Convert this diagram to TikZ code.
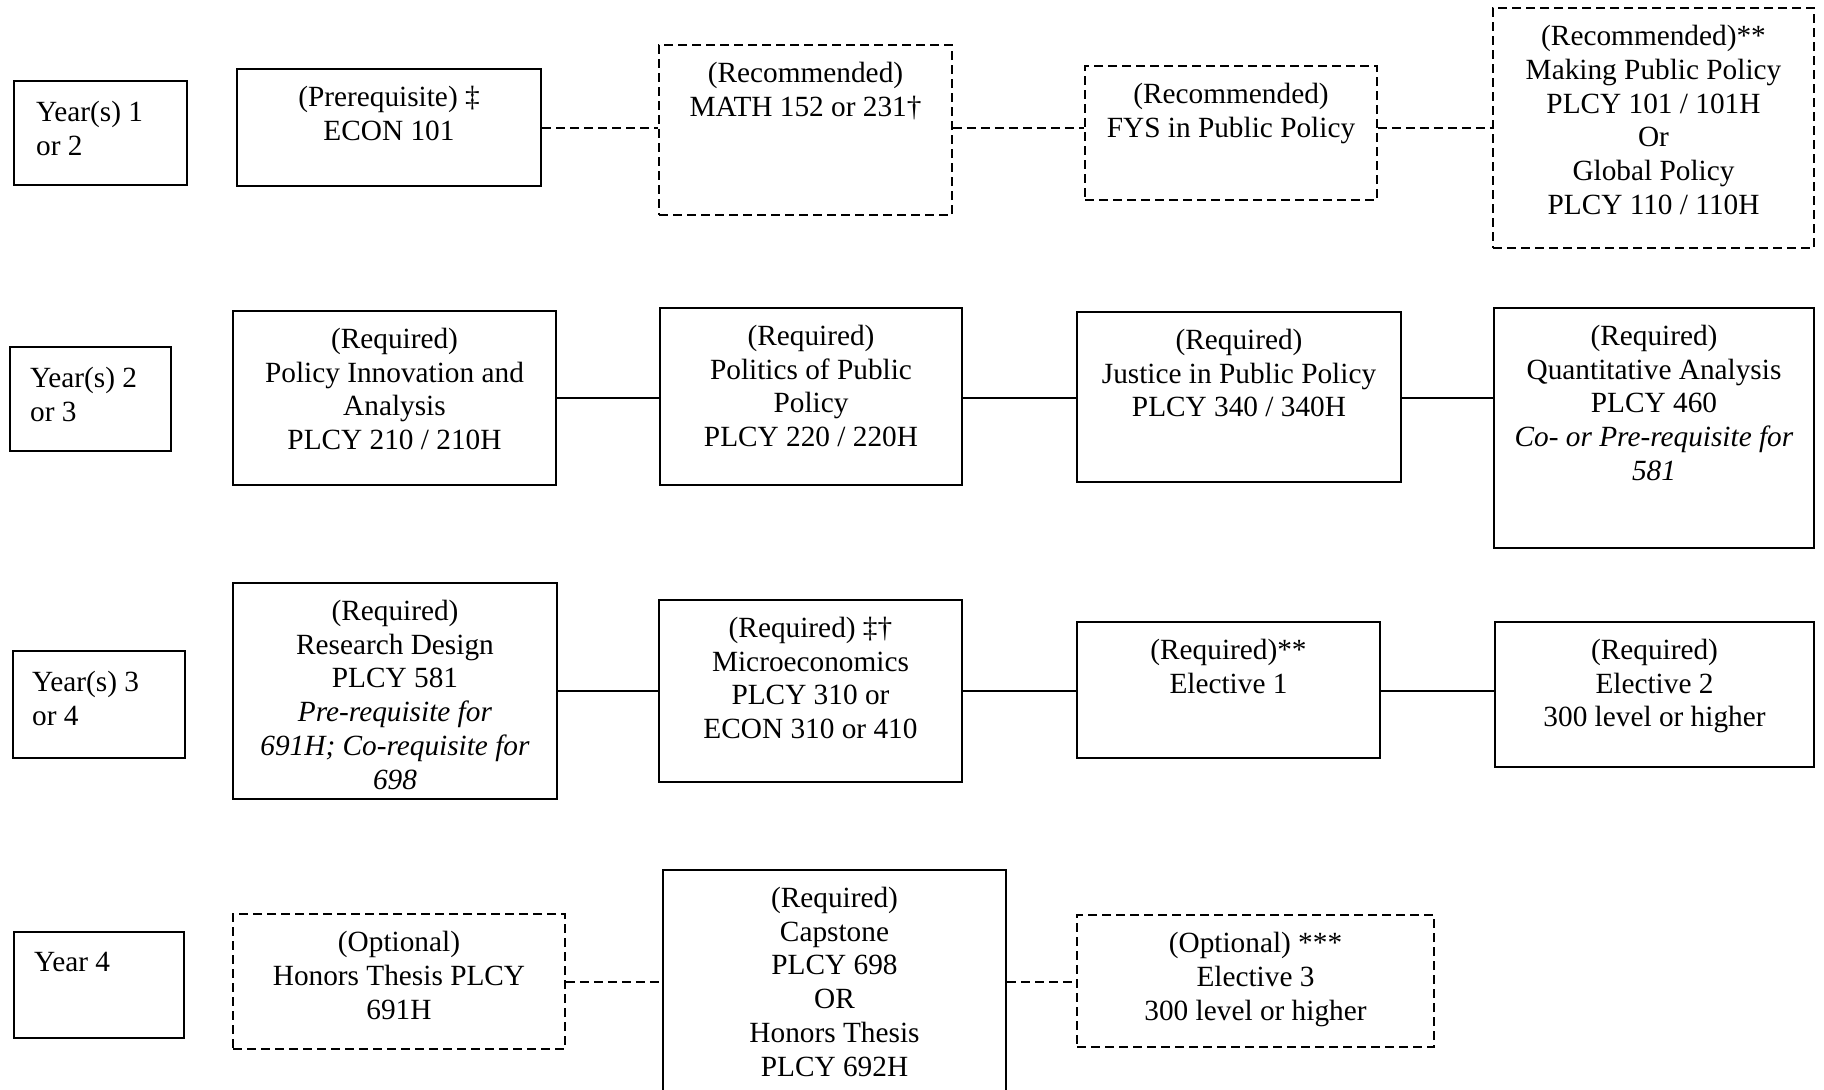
\documentclass[tikz,border=0pt]{standalone}
\usepackage{fontspec}
\setmainfont{Liberation Serif}
\usetikzlibrary{positioning}
\tikzset{
  yearbox/.style={rectangle,draw=black,line width=2pt,inner sep=0pt},
  reqbox/.style={rectangle,draw=black,line width=2pt,inner sep=0pt},
  optbox/.style={rectangle,draw=black,line width=1.8pt,dash pattern=on 9pt off 5pt,inner sep=0pt},
  boxtext/.style={inner sep=0pt,align=center,font=\fontsize{29.3}{33.7}\selectfont},
  yeartext/.style={inner sep=0pt,align=left,font=\fontsize{29.3}{33.7}\selectfont},
  link/.style={line width=2pt,draw=black},
  dashedlink/.style={line width=2pt,draw=black,dash pattern=on 9pt off 5pt}
}

\begin{document}
\begin{tikzpicture}[x=1pt,y=-1pt]
\useasboundingbox (0,0) rectangle (1824,1090);
% year 1 or 2
\node[yearbox,minimum width=173pt,minimum height=104pt] (year1) at (100.5,133) {};
\node[reqbox,minimum width=304pt,minimum height=117pt] (econ) at (389,127.5) {};
\node[optbox,minimum width=293pt,minimum height=170pt] (math) at (805.5,130) {};
\node[optbox,minimum width=292pt,minimum height=134pt] (fys) at (1231,133) {};
\node[optbox,minimum width=321pt,minimum height=240pt] (making) at (1653.5,128) {};
% year 2 or 3
\node[yearbox,minimum width=161pt,minimum height=104pt] (year2) at (90.5,399) {};
\node[reqbox,minimum width=323pt,minimum height=174pt] (innov) at (394.5,398) {};
\node[reqbox,minimum width=302pt,minimum height=177pt] (politics) at (811,396.5) {};
\node[reqbox,minimum width=324pt,minimum height=170pt] (justice) at (1239,397) {};
\node[reqbox,minimum width=320pt,minimum height=240pt] (quant) at (1654,428) {};
% year 3 or 4
\node[yearbox,minimum width=172pt,minimum height=107pt] (year3) at (99,704.5) {};
\node[reqbox,minimum width=324pt,minimum height=216pt] (research) at (395,691) {};
\node[reqbox,minimum width=303pt,minimum height=182pt] (micro) at (810.5,691) {};
\node[reqbox,minimum width=303pt,minimum height=136pt] (elec1) at (1228.5,690) {};
\node[reqbox,minimum width=319pt,minimum height=145pt] (elec2) at (1654.5,694.5) {};
% year 4
\node[yearbox,minimum width=170pt,minimum height=106pt] (year4) at (99,985) {};
\node[optbox,minimum width=332pt,minimum height=135pt] (honors) at (399,981.5) {};
\node[reqbox,minimum width=343pt,minimum height=230pt] (capstone) at (834.5,985) {};
\node[optbox,minimum width=357pt,minimum height=132pt] (elec3) at (1255.5,981) {};
% texts
\node[yeartext,below right=21pt and 23pt of year1.north west] (year1txt) {Year(s) 1\\or 2};
\node[yeartext,below right=21pt and 21pt of year2.north west] (year2txt) {Year(s) 2\\or 3};
\node[yeartext,below right=21pt and 20pt of year3.north west] (year3txt) {Year(s) 3\\or 4};
\node[yeartext,below right=21pt and 21pt of year4.north west] (year4txt) {Year 4};
\node[boxtext,below=18pt of econ.north] (econtxt) {(Prerequisite) ‡\\ECON 101};
\node[boxtext,below=18pt of math.north] (mathtxt) {(Recommended)\\MATH 152 or 231†};
\node[boxtext,below=18pt of fys.north] (fystxt) {(Recommended)\\FYS in Public Policy};
\node[boxtext,below=18pt of making.north] (makingtxt) {(Recommended)**\\Making Public Policy\\PLCY 101 / 101H\\Or\\Global Policy\\PLCY 110 / 110H};
\node[boxtext,below=18pt of innov.north] (innovtxt) {(Required)\\Policy Innovation and\\Analysis\\PLCY 210 / 210H};
\node[boxtext,below=18pt of politics.north] (politicstxt) {(Required)\\Politics of Public\\Policy\\PLCY 220 / 220H};
\node[boxtext,below=18pt of justice.north] (justicetxt) {(Required)\\Justice in Public Policy\\PLCY 340 / 340H};
\node[boxtext,below=18pt of quant.north] (quanttxt) {(Required)\\Quantitative Analysis\\PLCY 460\\\textit{Co- or Pre-requisite for}\\\textit{581}};
\node[boxtext,below=18pt of research.north] (researchtxt) {(Required)\\Research Design\\PLCY 581\\\textit{Pre-requisite for}\\\textit{691H; Co-requisite for}\\\textit{698}};
\node[boxtext,below=18pt of micro.north] (microtxt) {(Required) ‡†\\Microeconomics\\PLCY 310 or\\ECON 310 or 410};
\node[boxtext,below=18pt of elec1.north] (elec1txt) {(Required)**\\Elective 1};
\node[boxtext,below=18pt of elec2.north] (elec2txt) {(Required)\\Elective 2\\300 level or higher};
\node[boxtext,below=18pt of honors.north] (honorstxt) {(Optional)\\Honors Thesis PLCY\\691H};
\node[boxtext,below=18pt of capstone.north] (capstonetxt) {(Required)\\Capstone\\PLCY 698\\OR\\Honors Thesis\\PLCY 692H};
\node[boxtext,below=18pt of elec3.north] (elec3txt) {(Optional) ***\\Elective 3\\300 level or higher};
% connectors
\draw[dashedlink] (econ.east) -- (math.west |- econ);
\draw[dashedlink] (math.east |- econ) -- (fys.west |- econ);
\draw[dashedlink] (fys.east |- econ) -- (making.west |- econ);
\draw[link] (innov.east) -- (politics.west |- innov);
\draw[link] (politics.east |- innov) -- (justice.west |- innov);
\draw[link] (justice.east |- innov) -- (quant.west |- innov);
\draw[link] (research.east) -- (micro.west |- research);
\draw[link] (micro.east |- research) -- (elec1.west |- research);
\draw[link] (elec1.east |- research) -- (elec2.west |- research);
\draw[dashedlink] (honors.east) -- (capstone.west |- honors);
\draw[dashedlink] (capstone.east |- honors) -- (elec3.west |- honors);
\end{tikzpicture}
\end{document}
